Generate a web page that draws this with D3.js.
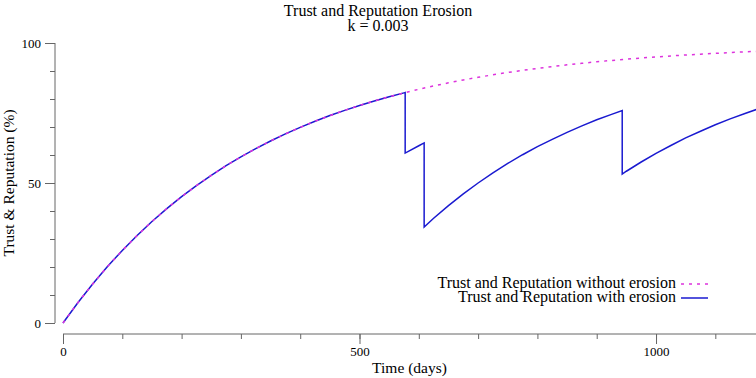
<!DOCTYPE html>
<html><head><meta charset="utf-8">
<script src="https://cdn.jsdelivr.net/npm/d3@7"></script>
<style>body{margin:0;background:#fff}svg{display:block}</style>
</head><body><div id="chart"></div>
<script>
const title = "Trust and Reputation Erosion";
const subtitle = "k = 0.003";
const xLabel = "Time (days)";
const yLabel = "Trust & Reputation (%)";
const xTicks = [0, 500, 1000];
const yTicks = [0, 50, 100];
const seriesNames = ["Trust and Reputation without erosion", "Trust and Reputation with erosion"];

const daysNoErosion = [0,25,50,75,100,125,150,175,200,225,250,275,300,325,350,375,400,425,450,475,500,525,550,575,600,625,650,675,700,725,750,775,800,825,850,875,900,925,950,975,1000,1025,1050,1075,1100,1125,1150,1175];
const trustNoErosion = [0,7.23,13.93,20.15,25.92,31.27,36.24,40.84,45.12,49.08,52.76,56.18,59.34,62.28,65.01,67.53,69.88,72.06,74.08,75.95,77.69,79.30,80.80,82.18,83.47,84.66,85.77,86.80,87.75,88.64,89.46,90.22,90.93,91.58,92.19,92.76,93.28,93.77,94.22,94.63,95.02,95.38,95.71,96.02,96.31,96.58,96.83,97.06];

const daysErosion = [0,25,50,75,100,125,150,175,200,225,250,275,300,325,350,375,400,425,450,475,500,525,550,575,577,577,600,609,609,625,650,675,700,725,750,775,800,825,850,875,900,925,943,943,950,975,1000,1025,1050,1075,1100,1125,1150,1175];
const trustErosion = [0,7.23,13.93,20.15,25.92,31.27,36.24,40.84,45.12,49.08,52.76,56.18,59.34,62.28,65.01,67.53,69.88,72.06,74.08,75.95,77.69,79.30,80.80,82.18,82.3,60.7,63.3,64.3,34.3,37.4,41.9,46.1,50.0,53.6,57.0,60.1,63.0,65.6,68.1,70.4,72.6,74.5,75.9,53.2,54.2,57.5,60.6,63.4,66.1,68.5,70.8,72.9,74.8,76.7];

const FONT = "'Liberation Serif', 'DejaVu Serif', serif";
const W = 756, H = 378;
const svg = d3.select("#chart").append("svg").attr("width", W).attr("height", H)
  .attr("font-family", FONT);
const x = d3.scaleLinear().domain([0, 1168.6]).range([63, 756]);
const y = d3.scaleLinear().domain([0, 100]).range([323, 43]);

svg.append("defs").append("clipPath").attr("id","clip").append("rect")
  .attr("x", 60).attr("y", 0).attr("width", 700).attr("height", 340);

const axisColor = "#666";
// Y axis
const yAxisMinor = d3.axisLeft(y).tickValues(d3.range(0, 101, 10)).tickSize(5).tickFormat("");
svg.append("g").attr("transform","translate(55,0)").call(yAxisMinor)
  .call(g => { g.select(".domain").attr("stroke", axisColor).attr("d", `M0,${y(0)}V${y(100)}`); g.selectAll("line").attr("stroke", axisColor); });
const yAxis = d3.axisLeft(y).tickValues(yTicks).tickSize(10).tickPadding(4).tickFormat(d3.format("d"));
svg.append("g").attr("transform","translate(55,0)").call(yAxis)
  .call(g => { g.attr("font-family", FONT); g.select(".domain").remove(); g.selectAll("line").attr("stroke", axisColor);
    g.selectAll("text").attr("font-size", 13).attr("fill","#000").attr("x", -14); });

// X axis
const xAxisMinor = d3.axisBottom(x).tickValues(d3.range(0, 1101, 100)).tickSize(5).tickFormat("");
svg.append("g").attr("transform","translate(0,334)").call(xAxisMinor)
  .call(g => { g.select(".domain").attr("stroke", axisColor).attr("d", `M${x(0)},0H756`); g.selectAll("line").attr("stroke", axisColor); });
const xAxis = d3.axisBottom(x).tickValues(xTicks).tickSize(10).tickPadding(3).tickFormat(d3.format("d"));
svg.append("g").attr("transform","translate(0,334)").call(xAxis)
  .call(g => { g.attr("font-family", FONT); g.select(".domain").remove(); g.selectAll("line").attr("stroke", axisColor);
    g.selectAll("text").attr("font-size", 13).attr("fill","#000"); });

// Titles
svg.append("text").attr("x", 378).attr("y", 16).attr("text-anchor","middle").attr("font-size", 16).text(title);
svg.append("text").attr("x", 378).attr("y", 31).attr("text-anchor","middle").attr("font-size", 16).text(subtitle);
svg.append("text").attr("x", x(500) + 50).attr("y", 373).attr("text-anchor","middle").attr("font-size", 15.5).text(xLabel);
svg.append("text").attr("transform", `translate(14,${y(50)}) rotate(-90)`).attr("text-anchor","middle").attr("font-size", 15.5).text(yLabel);

const blue = "#1a1ad0", magenta = "#dd33dd";
const line = d3.line().x(d => x(d[0])).y(d => y(d[1]));
const plot = svg.append("g").attr("clip-path","url(#clip)");
plot.append("path").datum(daysErosion.map((d,i)=>[d, trustErosion[i]]))
  .attr("d", line).attr("fill","none").attr("stroke", blue).attr("stroke-width", 1.5).attr("stroke-linejoin","miter");
plot.append("path").datum(daysNoErosion.map((d,i)=>[d, trustNoErosion[i]]))
  .attr("d", line).attr("fill","none").attr("stroke", magenta).attr("stroke-width", 1.5).attr("stroke-dasharray","3,5");

// Legend
const legY = [284, 298];
const legStyles = [{c: magenta, dash: "3,5"}, {c: blue, dash: null}];
seriesNames.forEach((n, i) => {
  svg.append("text").attr("x", 676).attr("y", legY[i] + 4).attr("text-anchor","end").attr("font-size", 16).text(n);
  svg.append("line").attr("x1", 681).attr("x2", 708).attr("y1", legY[i]).attr("y2", legY[i])
    .attr("stroke", legStyles[i].c).attr("stroke-width", 1.5).attr("stroke-dasharray", legStyles[i].dash);
});
</script></body></html>
